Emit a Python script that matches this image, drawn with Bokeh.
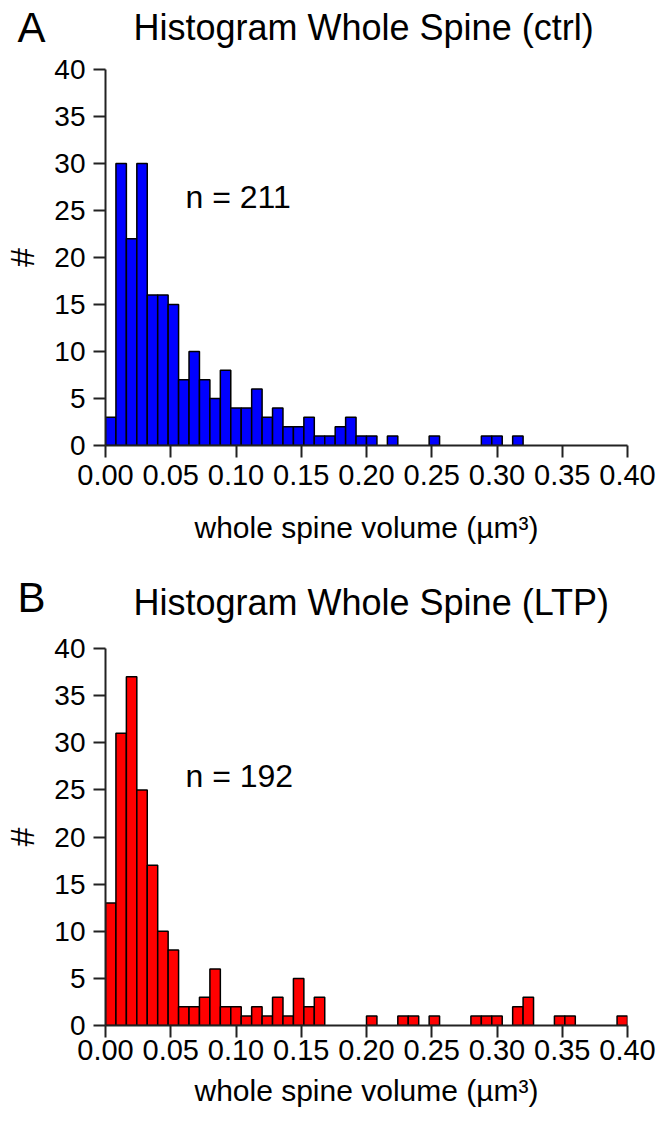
import numpy as np
from bokeh.plotting import figure
from bokeh.layouts import column
from bokeh.models import ColumnDataSource, Label, FixedTicker, NumeralTickFormatter
from bokeh.embed import file_html
from bokeh.resources import INLINE

# ---- data ----
bin_width = 0.008
n_bins = 50
ctrl_counts = [3, 30, 22, 30, 16, 16, 15, 7, 10, 7,
               5, 8, 4, 4, 6, 3, 4, 2, 2, 3,
               1, 1, 2, 3, 1, 1, 0, 1, 0, 0,
               0, 1, 0, 0, 0, 0, 1, 1, 0, 1,
               0, 0, 0, 0, 0, 0, 0, 0, 0, 0]
ltp_counts = [13, 31, 37, 25, 17, 10, 8, 2, 2, 3,
              6, 2, 2, 1, 2, 1, 3, 1, 5, 2,
              3, 0, 0, 0, 0, 1, 0, 0, 1, 1,
              0, 1, 0, 0, 0, 1, 1, 1, 0, 2,
              3, 0, 0, 1, 1, 0, 0, 0, 0, 1]
x_ticks = [0.0, 0.05, 0.10, 0.15, 0.20, 0.25, 0.30, 0.35, 0.40]
y_ticks = [0, 5, 10, 15, 20, 25, 30, 35, 40]
titles = ["Histogram Whole Spine (ctrl)", "Histogram Whole Spine (LTP)"]
panel_letters = ["A", "B"]
n_texts = ["n = 211", "n = 192"]
x_label = "whole spine volume (µm³)"
y_label = "#"

FONT = "Liberation Sans"
W = 658
FRAME_LEFT = 105
FRAME_W = 522


def header(height, letter, title, letter_base, title_base):
    """Text-only strip holding the panel letter and the panel title."""
    h = figure(width=W, height=height, x_range=(0, W), y_range=(height, 0),
               output_backend="svg", toolbar_location=None, frame_align=False,
               min_border_left=0, min_border_right=0, min_border_top=0, min_border_bottom=0)
    h.axis.visible = False
    h.xgrid.visible = False
    h.ygrid.visible = False
    h.outline_line_color = None
    h.add_layout(Label(x=17, y=letter_base, text=letter, text_font=FONT,
                       text_font_size="42px", text_color="black",
                       text_align="left", text_baseline="alphabetic"))
    h.add_layout(Label(x=133, y=title_base, text=title, text_font=FONT,
                       text_font_size="36px", text_color="black",
                       text_align="left", text_baseline="alphabetic"))
    return h


def make_panel(counts, color, ntext, height, border_top, frame_h,
               tick_std, label_std, n_y):
    edges = np.arange(n_bins + 1) * bin_width
    c = np.array(counts, dtype=float)
    mask = c > 0
    src = ColumnDataSource(dict(left=edges[:-1][mask], right=edges[1:][mask],
                                top=c[mask], bottom=np.zeros(mask.sum())))
    border_bottom = height - border_top - frame_h
    p = figure(width=W, height=height, x_range=(0, 0.4), y_range=(0, 40),
               output_backend="svg", toolbar_location=None, frame_align=False,
               min_border_left=FRAME_LEFT, min_border_right=W - FRAME_LEFT - FRAME_W,
               min_border_top=border_top, min_border_bottom=border_bottom)
    p.outline_line_color = None
    p.xgrid.visible = False
    p.ygrid.visible = False
    p.quad(left="left", right="right", top="top", bottom="bottom", source=src,
           fill_color=color, line_color="black", line_width=1.5)

    for ax in (p.xaxis[0], p.yaxis[0]):
        ax.axis_line_width = 2
        ax.axis_line_color = "#222222"
        ax.major_tick_line_width = 2
        ax.major_tick_line_color = "#222222"
        ax.major_tick_out = 12
        ax.major_tick_in = 0
        ax.minor_tick_line_color = None
        ax.major_label_text_font = FONT
        ax.axis_label_text_font = FONT
        ax.axis_label_text_font_style = "normal"
        ax.major_label_text_color = "black"
        ax.axis_label_text_color = "black"

    p.xaxis.ticker = FixedTicker(ticks=x_ticks)
    p.xaxis.formatter = NumeralTickFormatter(format="0.00")
    p.xaxis.major_label_text_font_size = "29px"
    p.xaxis.major_label_standoff = tick_std
    p.xaxis.axis_label = x_label
    p.xaxis.axis_label_text_font_size = "30px"
    p.xaxis.axis_label_standoff = label_std

    p.yaxis.ticker = FixedTicker(ticks=y_ticks)
    p.yaxis.major_label_text_font_size = "28px"
    p.yaxis.major_label_standoff = 8
    p.yaxis.axis_label = y_label
    p.yaxis.axis_label_text_font_size = "34px"
    p.yaxis.axis_label_standoff = 10

    # n = ... label: position given in frame pixels, converted to data units
    px_per_x = FRAME_W / 0.4
    px_per_y = frame_h / 40.0
    p.add_layout(Label(x=80 / px_per_x, y=n_y / px_per_y, text=ntext,
                       text_font=FONT, text_font_size="32px", text_color="black",
                       text_align="left", text_baseline="alphabetic"))
    return p


hA = header(52, panel_letters[0], titles[0], letter_base=27, title_base=27)
pA = make_panel(ctrl_counts, "#0000ff", n_texts[0], height=518, border_top=17,
                frame_h=376, tick_std=7, label_std=23, n_y=249)
hB = header(53, panel_letters[1], titles[1], letter_base=27, title_base=32)
pB = make_panel(ltp_counts, "#ff0000", n_texts[1], height=501, border_top=25,
                frame_h=377, tick_std=2, label_std=11, n_y=250)

layout = column(hA, pA, hB, pB, spacing=0)
open("out.html", "w").write(file_html(layout, INLINE))
